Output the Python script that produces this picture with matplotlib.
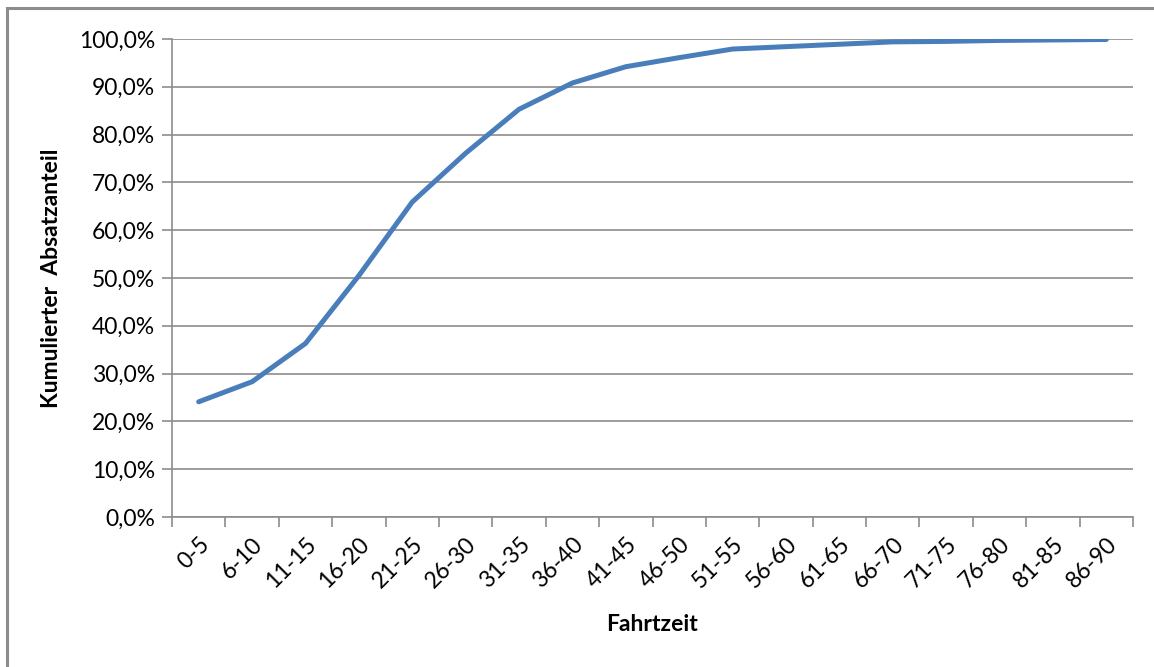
import numpy as np
import matplotlib.pyplot as plt
from matplotlib.patches import Rectangle
from matplotlib.ticker import FuncFormatter, FixedLocator

categories = ['0-5', '6-10', '11-15', '16-20', '21-25', '26-30', '31-35', '36-40',
              '41-45', '46-50', '51-55', '56-60', '61-65', '66-70', '71-75', '76-80',
              '81-85', '86-90']
kumuliert = [24.1, 28.3, 36.3, 50.5, 65.9, 76.1, 85.3, 90.8,
             94.2, 96.1, 97.9, 98.4, 98.9, 99.4, 99.5, 99.7, 99.8, 99.9]

plt.rcParams['font.family'] = ['Lato', 'DejaVu Sans']

fig = plt.figure(figsize=(11.54, 6.67), dpi=100)
ax = fig.add_axes([172 / 1154, 1 - 517 / 667, (1133 - 172) / 1154, (517 - 39) / 667])

# outer chart frame (runs off the right and bottom edge)
fig.patches.append(Rectangle((7 / 1154, -0.05), 1.2, 1 - 8 / 667 + 0.05,
                             transform=fig.transFigure, fill=False,
                             edgecolor='#8c8c8c', linewidth=2.2))

x = np.arange(len(categories))
ax.plot(x, kumuliert, color='#4a7ebb', linewidth=3.6, solid_capstyle='round',
        solid_joinstyle='miter', zorder=3)

ax.set_xlim(-0.5, len(categories) - 0.5)
ax.set_ylim(0, 100)
ax.set_yticks(np.arange(0, 101, 10))
ax.yaxis.set_major_formatter(FuncFormatter(lambda v, p: f'{v:.1f}%'.replace('.', ',')))
ax.yaxis.grid(True, color='#8c8c8c', linewidth=1.2)
ax.set_axisbelow(True)

# ticks sit on the category boundaries, labels in the middle
ax.xaxis.set_major_locator(FixedLocator(np.arange(-0.5, len(categories), 1.0)))
ax.xaxis.set_major_formatter(FuncFormatter(lambda v, p: ''))
ax.xaxis.set_minor_locator(FixedLocator(x))
ax.set_xticklabels(categories, minor=True, rotation=45, ha='right',
                   rotation_mode='anchor', fontsize=16.5)
ax.tick_params(axis='x', which='minor', length=0, pad=12)
ax.tick_params(axis='x', which='major', length=7, width=1.2, color='#8c8c8c')
ax.tick_params(axis='y', length=7, width=1.2, color='#8c8c8c', labelsize=16.5, pad=5)

for side in ['top', 'right']:
    ax.spines[side].set_visible(False)
for side in ['left', 'bottom']:
    ax.spines[side].set_color('#8c8c8c')
    ax.spines[side].set_linewidth(1.2)

ax.set_xlabel('Fahrtzeit', fontsize=16.5, fontweight='bold', labelpad=16)
ax.set_ylabel('Kumulierter  Absatzanteil', fontsize=16.5, fontweight='bold', labelpad=12)

fig.savefig('out.png', dpi=100)
